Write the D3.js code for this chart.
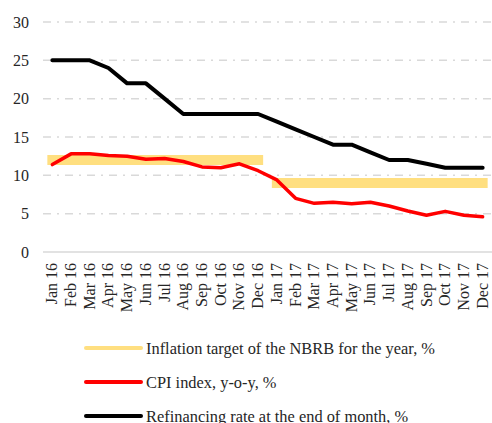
<!DOCTYPE html>
<html><head><meta charset="utf-8">
<script src="https://cdn.jsdelivr.net/npm/d3@7"></script>
<style>body{margin:0;background:#fff}svg{display:block}text{font-family:"Liberation Serif",serif;fill:#262626}</style>
</head><body><svg id="c" width="492" height="423"></svg>
<script>
const months = ["Jan 16","Feb 16","Mar 16","Apr 16","May 16","Jun 16","Jul 16","Aug 16","Sep 16","Oct 16","Nov 16","Dec 16",
"Jan 17","Feb 17","Mar 17","Apr 17","May 17","Jun 17","Jul 17","Aug 17","Sep 17","Oct 17","Nov 17","Dec 17"];
const cpi = [11.4,12.8,12.8,12.6,12.5,12.1,12.2,11.8,11.1,11.0,11.5,10.6,9.4,7.0,6.35,6.5,6.3,6.5,6.0,5.35,4.8,5.3,4.8,4.6];
const refi = [25,25,25,24,22,22,20,18,18,18,18,18,17,16,15,14,14,13,12,12,11.5,11,11,11];
const target2016 = 12, target2017 = 9;
const yTicks = [0,5,10,15,20,25,30];
const legendLabels = ["Inflation target of the NBRB for the year, %","CPI index, y-o-y, %","Refinancing rate at the end of month, %"];

const svg = d3.select("#c");
const L=43, R=492, T=22, B=252;
const x = d3.scaleBand().domain(months).range([L,R]);
const y = d3.scaleLinear().domain([0,30]).range([B,T]);
const cx = d => x(d)+x.bandwidth()/2;

// grid
svg.append("g").selectAll("line").data(yTicks.filter(t=>t>0)).join("line")
  .attr("x1",L).attr("x2",R).attr("y1",d=>y(d)).attr("y2",d=>y(d))
  .attr("stroke","#d9d9d9").attr("stroke-width",1.5).attr("stroke-dasharray","8,6,2,6");
svg.append("line").attr("x1",L).attr("x2",R).attr("y1",y(0)).attr("y2",y(0)).attr("stroke","#d9d9d9").attr("stroke-width",1.5);

// y labels
svg.append("g").selectAll("text").data(yTicks).join("text")
  .attr("x",29).attr("y",d=>y(d)).attr("dy","0.35em").attr("text-anchor","end")
  .attr("font-size",16).text(d=>d);

// x labels
svg.append("g").selectAll("text").data(months).join("text")
  .attr("transform",d=>`translate(${cx(d)+5},263) rotate(-90)`)
  .attr("text-anchor","end").attr("font-size",16).text(d=>d);

// targets
const tgt = [{from:months[0],to:months[11],v:target2016},{from:months[12],to:months[23],v:target2017}];
svg.append("g").selectAll("line").data(tgt).join("line")
  .attr("x1",d=>cx(d.from)).attr("x2",d=>cx(d.to)).attr("y1",d=>y(d.v)).attr("y2",d=>y(d.v))
  .attr("stroke","#ffdf80").attr("stroke-width",10).attr("stroke-linecap","square");

const line = d3.line().x((d,i)=>cx(months[i])).y(d=>y(d));
svg.append("path").datum(cpi).attr("d",line).attr("fill","none").attr("stroke","#ff0000").attr("stroke-width",3.5).attr("stroke-linejoin","round").attr("stroke-linecap","round");
svg.append("path").datum(refi).attr("d",line).attr("fill","none").attr("stroke","#000").attr("stroke-width",4).attr("stroke-linejoin","round").attr("stroke-linecap","round");

// legend
const lg = svg.append("g");
const colors = ["#ffdf80","#ff0000","#000"];
const ly = [348,382,416];
legendLabels.forEach((t,i)=>{
  lg.append("line").attr("x1",86).attr("x2",141).attr("y1",ly[i]).attr("y2",ly[i]).attr("stroke",colors[i]).attr("stroke-width",4).attr("stroke-linecap","round");
  lg.append("text").attr("x",146).attr("y",ly[i]).attr("dy","0.35em").attr("font-size",16.4).text(t);
});
</script></body></html>
